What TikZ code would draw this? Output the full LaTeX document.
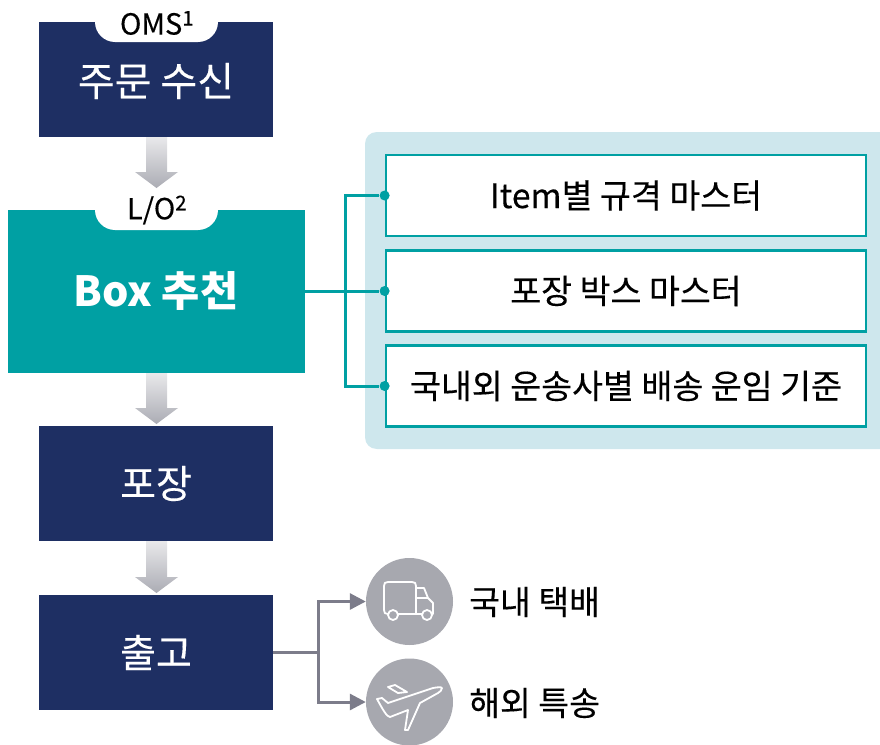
\documentclass[tikz,border=0pt]{standalone}
\usepackage{fontspec}
\setmainfont{Noto Sans CJK KR}
\newfontfamily\medfont[FakeBold=0.25]{Noto Sans CJK KR}
\usetikzlibrary{arrows.meta}
\definecolor{navy}{HTML}{1E2F63}
\definecolor{teal2}{HTML}{00A0A3}
\definecolor{panel}{HTML}{CEE7ED}
\definecolor{conn}{HTML}{7C7C8A}
\definecolor{disc}{HTML}{A7A8AF}
\definecolor{arrowtop}{HTML}{E9E9EB}
\definecolor{arrowbot}{HTML}{ABACB4}
\tikzset{
  navybox/.style={fill=navy,draw=none,text=white,inner sep=0pt,minimum width=234pt,minimum height=115pt,font=\medfont\fontsize{39}{42}\selectfont},
  tealbox/.style={fill=teal2,draw=none,text=white,inner sep=0pt,minimum width=297pt,minimum height=163pt},
  listbox/.style={fill=white,draw=teal2,line width=2.8pt,inner sep=0pt,minimum width=480pt,minimum height=81pt,text=black,font=\medfont\fontsize{33.6}{38}\selectfont},
  tag/.style={text=black,inner sep=0pt,font=\medfont\fontsize{29}{32}\selectfont},
  sidetext/.style={text=black,inner sep=0pt,anchor=west,font=\medfont\fontsize{33.5}{38}\selectfont},
  tealline/.style={draw=teal2,line width=3pt},
  grayline/.style={draw=conn,line width=3pt},
  dot/.style={circle,fill=teal2,inner sep=0pt,minimum size=10pt},
  discnode/.style={circle,fill=disc,inner sep=0pt,minimum size=87pt},
  icon/.style={draw=white,line width=1.8pt,line join=round,fill=none},
}
\newcommand{\notch}[1]{\fill[white] (95,#1-1) -- (218,#1-1) -- (218,#1) .. controls (218,#1+11) and (209,#1+20) .. (198,#1+20) -- (115,#1+20) .. controls (104,#1+20) and (95,#1+11) .. (95,#1) -- cycle;}
\begin{document}
\begin{tikzpicture}[x=1pt,y=-1pt]
\useasboundingbox (0,0) rectangle (880,744);
% panel
\fill[panel] (880,132) -- (377,132) .. controls (370,132) and (365,137) .. (365,144) -- (365,437) .. controls (365,444) and (370,449) .. (377,449) -- (880,449) -- cycle;
% boxes
\node[navybox] (a) at (156,79.5) {};
\node[tealbox] (b) at (156.5,291.5) {};
\node[navybox] (c) at (156,483.5) {포장};
\node[navybox] (d) at (156,652.5) {출고};
\node[white,inner sep=0pt,font=\medfont\fontsize{40}{44}\selectfont] (at) at (156,81) {주문 수신};
\node[white,inner sep=0pt,font=\bfseries\fontsize{41.5}{44}\selectfont] (bt) at (156,291) {Box 추천};
\notch{22}
\notch{210}
\node[tag] (oms) at (157,23) {OMS\textsuperscript{1}};
\node[tag] (lo) at (157,210) {L/O\textsuperscript{2}};
% arrows
\foreach \ya/\yb in {137/188,373/424,541/593}{
  \shade[top color=arrowtop,bottom color=arrowbot] (146,\ya) -- (167,\ya) -- (167,\yb-16) -- (178,\yb-16) -- (156.5,\yb) -- (135,\yb-16) -- (146,\yb-16) -- cycle;
}
% list
\node[listbox] (l1) at (626,195.5) {Item별 규격 마스터};
\node[listbox] (l2) at (626,291) {포장 박스 마스터};
\node[listbox] (l3) at (626,386) {국내외 운송사별 배송 운임 기준};
\node[dot] (d1) at (l1.west) {};
\node[dot] (d2) at (l2.west) {};
\node[dot] (d3) at (l3.west) {};
\coordinate (j) at (345,291);
\draw[tealline] (b.east |- j) -- (d2);
\draw[tealline] (d1) -| (j) |- (d3);
% discs
\node[discnode] (t) at (409.5,601.5) {};
\begin{scope}
\clip (300,640) rectangle (500,744);
\node[discnode] (p) at (409.5,702) {};
\end{scope}
\coordinate (k) at (318,652);
\draw[grayline] (d.east |- k) -- (k);
\draw[grayline,-{Triangle[length=16pt,width=16pt]}] (k) |- (t.west);
\draw[grayline,-{Triangle[length=16pt,width=16pt]}] (k) |- (p.west);
% truck
\draw[icon] (388,614) .. controls (385,614) and (384,613) .. (384,610) -- (384,586) .. controls (384,583) and (385,582) .. (388,582) -- (412,582) .. controls (415,582) and (416,583) .. (416,586) -- (416,614) -- (398,614);
\draw[icon] (416,588) -- (424,588) -- (428,598) -- (433,603) -- (433,614) -- (432,614);
\draw[icon] (416,598) -- (428,598);
\draw[icon] (416,614) -- (422,614);
\draw[icon] (393,615) circle[radius=5];
\draw[icon] (427,615) circle[radius=5];
% plane
\draw[icon] (377,699) -- (382,698) -- (388,703) -- (433,688) .. controls (438,687) and (442,687) .. (442,688) .. controls (442,690) and (440,692) .. (438,693) -- (420,703) -- (408,730) -- (405,730) -- (408,710) -- (390,717) .. controls (387,717) and (383,710) .. (377,699) -- cycle;
\draw[icon] (388,687) -- (395,685) -- (407,692) -- (398,693) -- cycle;
% side text
\node[sidetext] (s1) at (469,602) {국내 택배};
\node[sidetext] (s2) at (469,703) {해외 특송};
\end{tikzpicture}
\end{document}
